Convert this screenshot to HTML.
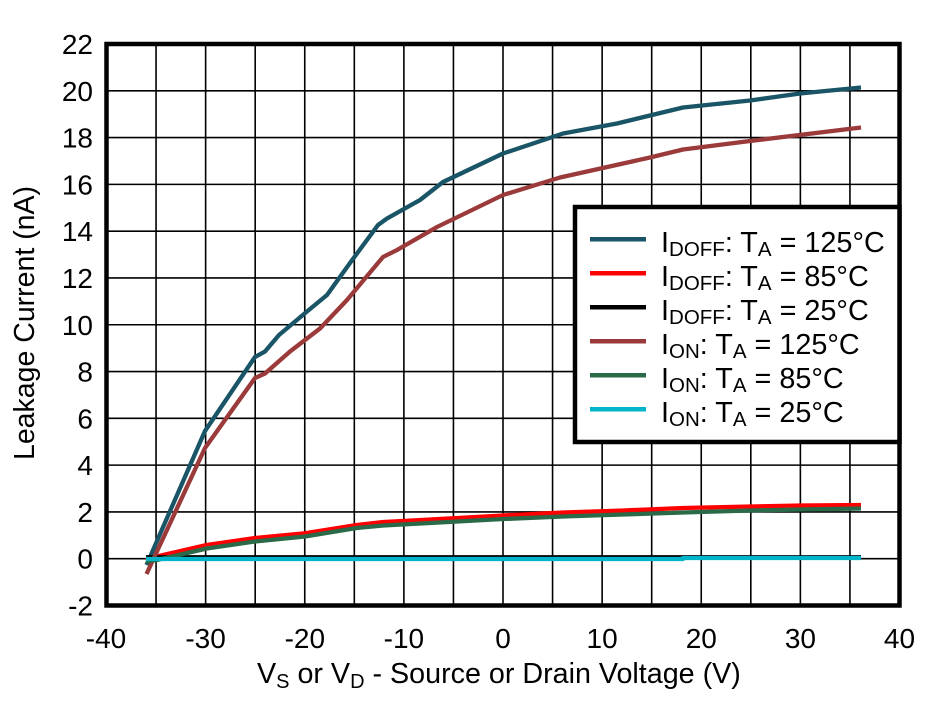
<!DOCTYPE html>
<html>
<head>
<meta charset="utf-8">
<style>
  html, body { margin: 0; padding: 0; background: #ffffff; }
  svg { display: block; }
  text { font-family: "Liberation Sans", Arial, sans-serif; fill: #000; }
</style>
</head>
<body>
<svg width="940" height="701" viewBox="0 0 940 701" xmlns="http://www.w3.org/2000/svg">
  <rect x="0" y="0" width="940" height="701" fill="#ffffff"/>

  <!-- grid -->
  <g stroke="#000" stroke-width="1.6" fill="none">
    <line x1="156.06" y1="44" x2="156.06" y2="605.5"/>
    <line x1="205.63" y1="44" x2="205.63" y2="605.5"/>
    <line x1="255.19" y1="44" x2="255.19" y2="605.5"/>
    <line x1="304.75" y1="44" x2="304.75" y2="605.5"/>
    <line x1="354.31" y1="44" x2="354.31" y2="605.5"/>
    <line x1="403.88" y1="44" x2="403.88" y2="605.5"/>
    <line x1="453.44" y1="44" x2="453.44" y2="605.5"/>
    <line x1="503.0" y1="44" x2="503.0" y2="605.5"/>
    <line x1="552.56" y1="44" x2="552.56" y2="605.5"/>
    <line x1="602.13" y1="44" x2="602.13" y2="605.5"/>
    <line x1="651.69" y1="44" x2="651.69" y2="605.5"/>
    <line x1="701.25" y1="44" x2="701.25" y2="605.5"/>
    <line x1="750.81" y1="44" x2="750.81" y2="605.5"/>
    <line x1="800.38" y1="44" x2="800.38" y2="605.5"/>
    <line x1="849.94" y1="44" x2="849.94" y2="605.5"/>

    <line x1="106.5" y1="90.79" x2="899.5" y2="90.79"/>
    <line x1="106.5" y1="137.58" x2="899.5" y2="137.58"/>
    <line x1="106.5" y1="184.38" x2="899.5" y2="184.38"/>
    <line x1="106.5" y1="231.17" x2="899.5" y2="231.17"/>
    <line x1="106.5" y1="277.96" x2="899.5" y2="277.96"/>
    <line x1="106.5" y1="324.75" x2="899.5" y2="324.75"/>
    <line x1="106.5" y1="371.54" x2="899.5" y2="371.54"/>
    <line x1="106.5" y1="418.33" x2="899.5" y2="418.33"/>
    <line x1="106.5" y1="465.13" x2="899.5" y2="465.13"/>
    <line x1="106.5" y1="511.92" x2="899.5" y2="511.92"/>
    <line x1="106.5" y1="558.71" x2="899.5" y2="558.71"/>
  </g>

  <!-- series -->
  <g fill="none" stroke-width="4.3" stroke-linejoin="round" stroke-linecap="butt">
    <polyline stroke="#195566" points="146.5,565 205,431 255,357 265,351.5 279,335 307,311.5 327,295 350,263 378,225 387,218.5 420,200 443,182 503,153.5 563,133.5 617,123.5 683,107.5 750,100.5 800,93.5 861,87.5"/>
    <polyline stroke="#ff0000" points="146,560 156.7,556.5 206.7,545 255,538 305,533.3 356.7,525 383.3,522 430,519.5 503,515.5 563,512.5 623,510.5 683,508 750,506.5 800,505.5 861,505"/>
    <polyline stroke="#000000" points="146,557.3 861,557.3"/>
    <polyline stroke="#9b3a3a" points="146.5,574 205,448 255,378 265,373.5 290,351.5 320,328.5 347,300 383,257 397,250 437,227 503,195 560,177.5 650,157.5 683,149.5 750,141 861,127.5"/>
    <polyline stroke="#2a6a48" points="146,561.5 156.7,560 206.7,548.5 255,541.5 305,536.5 356.7,528 383.3,525.5 430,523 503,519 563,516.5 623,514.5 683,512.5 750,510.5 800,509.5 861,508.5"/>
    <polyline stroke="#00b5c9" points="146,559 683,559 683,558 861,558"/>
  </g>

  <!-- frame -->
  <rect x="106.5" y="44" width="793" height="561.5" fill="none" stroke="#000" stroke-width="4.5"/>

  <!-- legend -->
  <rect x="575" y="207" width="324.5" height="235" fill="#ffffff" stroke="#000" stroke-width="4.5"/>
  <g stroke-width="4.5">
    <line x1="590" y1="239.3" x2="646" y2="239.3" stroke="#195566"/>
    <line x1="590" y1="273.3" x2="646" y2="273.3" stroke="#ff0000"/>
    <line x1="590" y1="307.3" x2="646" y2="307.3" stroke="#000000"/>
    <line x1="590" y1="341.3" x2="646" y2="341.3" stroke="#9b3a3a"/>
    <line x1="590" y1="375.3" x2="646" y2="375.3" stroke="#2a6a48"/>
    <line x1="590" y1="409.3" x2="646" y2="409.3" stroke="#00b5c9"/>
  </g>
  <g font-size="28.8">
    <text x="661" y="252">I<tspan font-size="20.5" dy="4">DOFF</tspan><tspan dy="-4">: T</tspan><tspan font-size="20.5" dy="4">A</tspan><tspan dy="-4"> = 125°C</tspan></text>
    <text x="661" y="286">I<tspan font-size="20.5" dy="4">DOFF</tspan><tspan dy="-4">: T</tspan><tspan font-size="20.5" dy="4">A</tspan><tspan dy="-4"> = 85°C</tspan></text>
    <text x="661" y="320">I<tspan font-size="20.5" dy="4">DOFF</tspan><tspan dy="-4">: T</tspan><tspan font-size="20.5" dy="4">A</tspan><tspan dy="-4"> = 25°C</tspan></text>
    <text x="661" y="354">I<tspan font-size="20.5" dy="4">ON</tspan><tspan dy="-4">: T</tspan><tspan font-size="20.5" dy="4">A</tspan><tspan dy="-4"> = 125°C</tspan></text>
    <text x="661" y="388">I<tspan font-size="20.5" dy="4">ON</tspan><tspan dy="-4">: T</tspan><tspan font-size="20.5" dy="4">A</tspan><tspan dy="-4"> = 85°C</tspan></text>
    <text x="661" y="422">I<tspan font-size="20.5" dy="4">ON</tspan><tspan dy="-4">: T</tspan><tspan font-size="20.5" dy="4">A</tspan><tspan dy="-4"> = 25°C</tspan></text>
  </g>

  <!-- y tick labels -->
  <g font-size="28" text-anchor="end">
    <text x="93" y="54">22</text>
    <text x="93" y="100.8">20</text>
    <text x="93" y="147.6">18</text>
    <text x="93" y="194.4">16</text>
    <text x="93" y="241.2">14</text>
    <text x="93" y="288">12</text>
    <text x="93" y="334.8">10</text>
    <text x="93" y="381.5">8</text>
    <text x="93" y="428.3">6</text>
    <text x="93" y="475.1">4</text>
    <text x="93" y="521.9">2</text>
    <text x="93" y="568.7">0</text>
    <text x="93" y="615.5">-2</text>
  </g>

  <!-- x tick labels -->
  <g font-size="28" text-anchor="middle">
    <text x="106" y="648">-40</text>
    <text x="205.6" y="648">-30</text>
    <text x="304.8" y="648">-20</text>
    <text x="403.9" y="648">-10</text>
    <text x="503" y="648">0</text>
    <text x="602.1" y="648">10</text>
    <text x="701.3" y="648">20</text>
    <text x="800.4" y="648">30</text>
    <text x="899.5" y="648">40</text>
  </g>

  <!-- axis titles -->
  <text x="257" y="683" font-size="28.7">V<tspan font-size="20" dy="5">S</tspan><tspan dy="-5"> or V</tspan><tspan font-size="20" dy="5">D</tspan><tspan dy="-5"> - Source or Drain Voltage (V)</tspan></text>
  <text transform="translate(34,323) rotate(-90)" text-anchor="middle" font-size="28.5">Leakage Current (nA)</text>
</svg>
</body>
</html>
